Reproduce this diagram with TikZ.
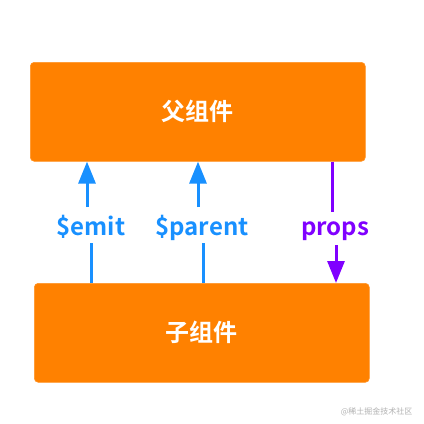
\documentclass[tikz,border=0pt]{standalone}
\usepackage{fontspec}
\setmainfont{Noto Sans CJK SC}[BoldFont={* Bold}]
\usetikzlibrary{arrows.meta}
\definecolor{boxorange}{RGB}{255,129,0}
\definecolor{arrblue}{RGB}{24,144,255}
\definecolor{arrpurple}{RGB}{128,0,255}
\tikzset{
  compbox/.style={fill=boxorange, draw=boxorange!85!white, line width=0.6pt, rounded corners=4pt,
    minimum width=335pt, minimum height=99pt, inner sep=0pt, text=white,
    font=\fontsize{24}{24}\selectfont\bfseries, anchor=north west},
  lbl/.style={font=\fontsize{24}{24}\selectfont\bfseries, inner sep=0pt, anchor=base},
  conn/.style={line width=3pt},
  tip/.style={-{Triangle[width=17pt,length=22pt]}},
}
\begin{document}
\begin{tikzpicture}[x=1pt,y=-1pt]
\useasboundingbox (0,0) rectangle (424,424);
\fill[white] (0,0) rectangle (424,424);
\node[compbox] (top) at (30,62) {父组件};
\node[compbox] (bot) at (34,283) {子组件};
\node[lbl, text=arrblue] (emit) at (91,235) {\$emit};
\node[lbl, text=arrblue] (parent) at (202,235) {\$parent};
\node[lbl, text=arrpurple] (props) at (335,235) {props};
\coordinate (e1) at (87,207);
\coordinate (e2) at (91,243);
\coordinate (p1) at (198,207);
\coordinate (p2) at (203,243);
\coordinate (r1) at (332,212);
\coordinate (r2) at (336,245);
\draw[conn, tip, arrblue] (e1) -- (e1 |- top.south);
\draw[conn, arrblue] (e2) -- (e2 |- bot.north);
\draw[conn, tip, arrblue] (p1) -- (p1 |- top.south);
\draw[conn, arrblue] (p2) -- (p2 |- bot.north);
\draw[conn, arrpurple] (r1 |- top.south) -- (r1);
\draw[conn, tip, arrpurple] (r2) -- (r2 |- bot.north);
\node[font=\fontsize{8}{8}\selectfont, text=black!30, anchor=east] (wm) at (416,412) {@稀土掘金技术社区};
\end{tikzpicture}
\end{document}
